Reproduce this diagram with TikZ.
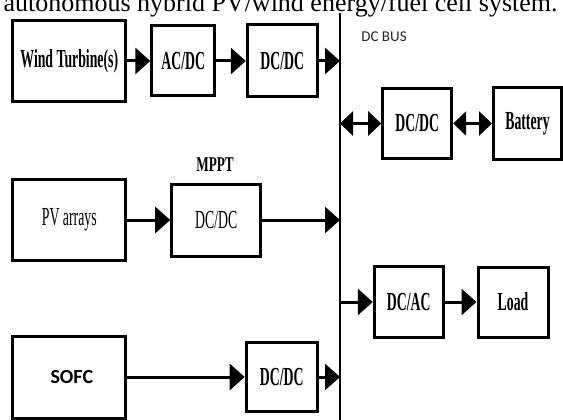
\documentclass[tikz,border=0pt]{standalone}
\usepackage{fontspec}
\setmainfont{Liberation Serif}
\newfontfamily\narrowserif[FakeStretch=0.53]{Liberation Serif}
\newfontfamily\headserif[FakeStretch=0.63]{Liberation Serif}
\newfontfamily\calibrifont{Carlito}
\usetikzlibrary{arrows.meta}

\newcommand{\unitsize}{\fontsize{26}{26}\selectfont}

\tikzset{
  unit/.style={draw, line width=3pt, inner sep=0pt, font=\narrowserif\unitsize\bfseries},
  flow/.style={line width=3pt, -{Triangle[length=15pt,width=26pt]}},
  twoway/.style={line width=3pt, {Triangle[length=13pt,width=24pt]}-{Triangle[length=13pt,width=24pt]}},
}

\begin{document}
\begin{tikzpicture}
  \begin{scope}[x=1pt,y=-1pt]
    \useasboundingbox (0,0) rectangle (563,420);
    \clip (0,0) rectangle (563,420);

    \node[anchor=base west, font=\fontsize{26}{26}\selectfont] (caption) at (0,12)
      {autonomous hybrid PV/wind energy/fuel cell system.};

    % the DC bus
    \coordinate (bus top) at (340,13);
    \coordinate (bus bottom) at (340,420);
    \draw[line width=2pt] (bus top) -- (bus bottom);
    \node[font=\calibrifont\fontsize{15}{15}\selectfont, text=black!85] (bus label) at (384,37) {DC BUS};

    % sources
    \node[unit, minimum width=113pt, minimum height=81pt] (wind) at (69.3,61) {Wind Turbine(s)};
    \node[unit, minimum width=63pt, minimum height=70pt] (acdc) at (183.3,61) {AC/DC};
    \node[unit, minimum width=70pt, minimum height=72pt] (wind dcdc) at (282.3,61) {DC/DC};

    \node[unit, minimum width=113pt, minimum height=81pt, font=\narrowserif\unitsize] (pv) at (69.3,220) {PV arrays};
    \node[unit, minimum width=89pt, minimum height=72pt, font=\narrowserif\unitsize] (mppt) at (216.2,220) {DC/DC};
    \node[font=\headserif\fontsize{21}{21}\selectfont\bfseries] (mppt label) at (215,165) {MPPT};

    \node[unit, minimum width=113pt, minimum height=82pt, text width=105pt, align=center,
      font=\calibrifont\fontsize{20}{20}\selectfont\bfseries] (sofc) at (69.3,377) {\hspace*{5pt}SOFC};
    \node[unit, minimum width=71pt, minimum height=69pt] (sofc dcdc) at (281.7,377) {DC/DC};

    % storage and load
    \node[unit, minimum width=69pt, minimum height=70pt] (battery dcdc) at (417.2,123.5) {DC/DC};
    \node[unit, minimum width=68pt, minimum height=72pt] (battery) at (527.5,123.5) {Battery};

    \node[unit, minimum width=69pt, minimum height=71pt] (dcac) at (408.8,302) {DC/AC};
    \node[unit, minimum width=70pt, minimum height=70pt] (load) at (513,302) {Load};

    \draw[flow] (wind) -- (acdc);
    \draw[flow] (acdc) -- (wind dcdc);
    \draw[flow] (wind dcdc.east) -- (wind dcdc.east -| bus top);

    \draw[flow] (pv) -- (mppt);
    \draw[flow] (mppt.east) -- (mppt.east -| bus top);

    \draw[flow] (sofc) -- (sofc dcdc);
    \draw[flow] (sofc dcdc.east) -- (sofc dcdc.east -| bus top);

    \draw[twoway] (battery dcdc.west -| bus top) -- (battery dcdc.west);
    \draw[twoway] (battery dcdc) -- (battery);

    \draw[flow] (dcac.west -| bus top) -- (dcac.west);
    \draw[flow] (dcac) -- (load);
  \end{scope}
\end{tikzpicture}
\end{document}
